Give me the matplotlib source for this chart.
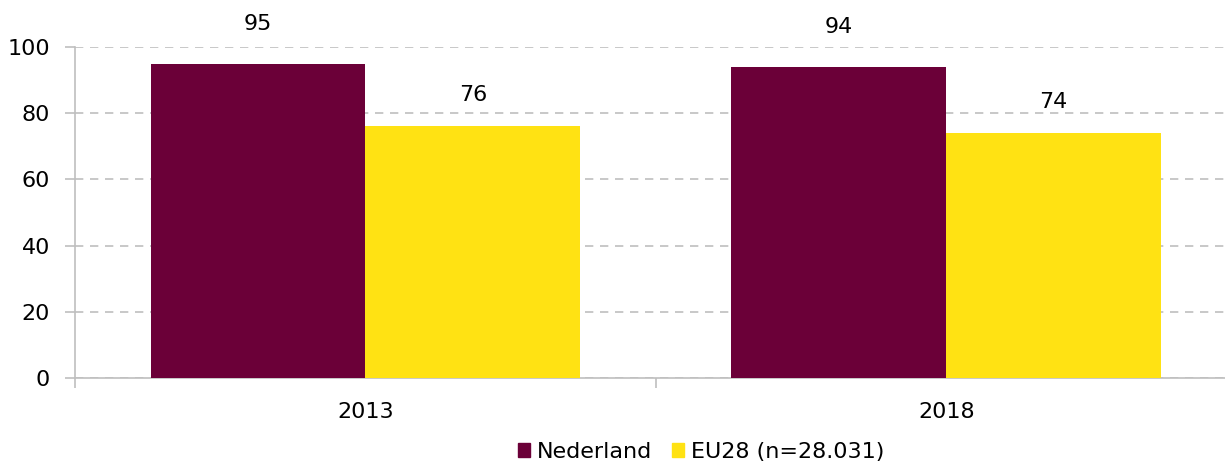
import numpy as np
import matplotlib.pyplot as plt
from matplotlib.patches import Patch

years = ['2013', '2018']
nederland = [95, 94]
eu28 = [76, 74]
labels = ['Nederland', 'EU28 (n=28.031)']
colors = ['#6B0038', '#FFE213']

plt.rcParams['font.family'] = ['DejaVu Sans']
plt.rcParams['font.size'] = 16

fig = plt.figure(figsize=(12.25, 4.62), dpi=100)
ax = fig.add_axes([75 / 1225, 1 - 378 / 462, 1150 / 1225, 331 / 462])

x = np.arange(len(years))
w = 0.37
b1 = ax.bar(x - w / 2, nederland, w, color=colors[0], zorder=3)
b2 = ax.bar(x + w / 2, eu28, w, color=colors[1], zorder=3)
for bars, off in ((b1, 9), (b2, 6.5)):
    for r in bars:
        ax.text(r.get_x() + r.get_width() / 2, r.get_height() + off, f'{r.get_height():.0f}',
                ha='center', va='bottom', fontsize=16)

ax.set_yticks(range(0, 101, 20))
ax.yaxis.grid(True, color='#BFBFBF', linestyle=(0, (5, 4)), linewidth=1.2, zorder=0)
ax.set_axisbelow(True)

ax.set_xticks([-0.5, 0.5, 1.5])
ax.set_xticklabels([])
ax.set_xticks(x, minor=True)
ax.set_xticklabels(years, minor=True)
ax.tick_params(axis='x', which='minor', length=0, pad=17)
ax.tick_params(axis='x', which='major', length=7, color='#BFBFBF', width=1.2)
ax.tick_params(axis='y', length=7, color='#BFBFBF', width=1.2, pad=11)
ax.set_xlim(-0.5, 1.48)
ax.set_ylim(0, 100)

for s in ['top', 'right']:
    ax.spines[s].set_visible(False)
for s in ['left', 'bottom']:
    ax.spines[s].set_color('#BFBFBF')
    ax.spines[s].set_linewidth(1.2)

handles = [Patch(color=c, label=l) for c, l in zip(colors, labels)]
fig.legend(handles=handles, loc='center', bbox_to_anchor=(701 / 1225, 1 - 452 / 462),
           ncol=2, frameon=False, handlelength=0.55, handleheight=0.55,
           handletextpad=0.3, columnspacing=0.9, fontsize=16)

fig.savefig('out.png', dpi=100)
